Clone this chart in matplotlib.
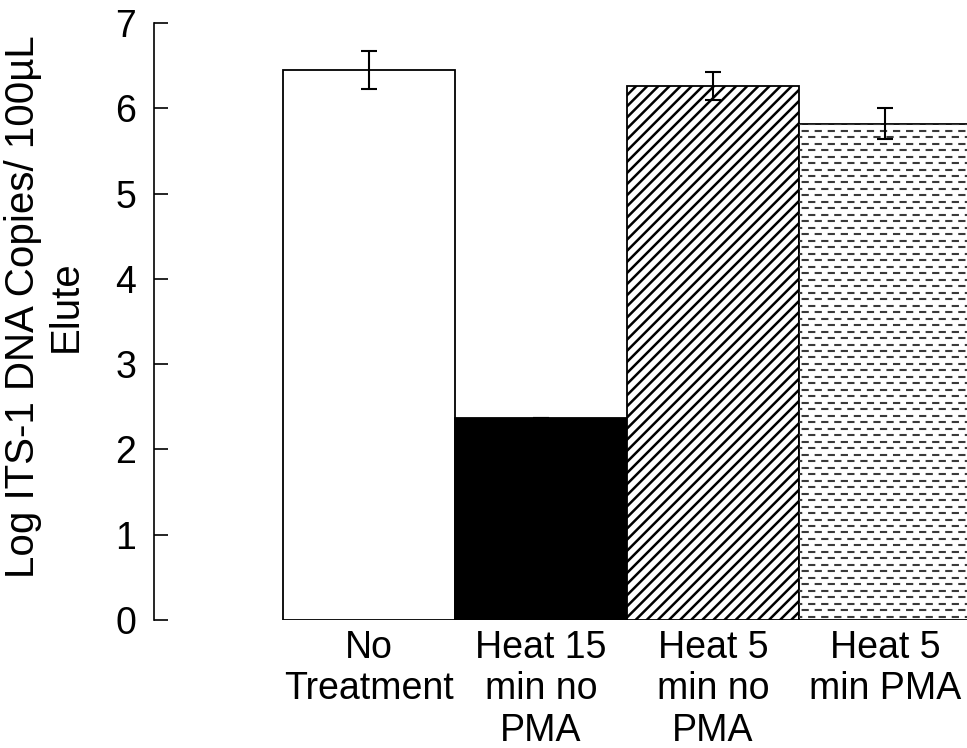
import numpy as np
import matplotlib
matplotlib.use("Agg")
import matplotlib.pyplot as plt

categories = ["No\nTreatment", "Heat 15\nmin no\nPMA", "Heat 5\nmin no\nPMA", "Heat 5\nmin PMA"]
values = [6.45, 2.37, 6.26, 5.82]
errors = [0.22, 0.0, 0.16, 0.18]
yticks = [0, 1, 2, 3, 4, 5, 6, 7]
ylabel = "Log ITS-1 DNA Copies/ 100µL\nElute"

plt.rcParams['font.family'] = ['Liberation Sans', 'DejaVu Sans']
plt.rcParams['hatch.linewidth'] = 1.8
plt.rcParams['lines.scale_dashes'] = False

fig = plt.figure(figsize=(9.67, 7.48), dpi=100)
ax = fig.add_axes([154/967, 1 - 620/748, 1 - 154/967, 597/748])

x = np.arange(len(categories))
faces = ['white', 'black', 'white', 'white']
hatches = [None, None, '///', None]
bars = ax.bar(x, values, width=1.0, color=faces, edgecolor='black', linewidth=1.3,
              zorder=2)
for b, h in zip(bars, hatches):
    if h:
        b.set_hatch(h)

# dashed fill pattern for last bar
last = bars[3]
step = 0.076
rows = np.arange(step / 2, values[3], step)
x0, x1 = x[3] - 0.5, x[3] + 0.5
for i, yy in enumerate(rows):
    ln, = ax.plot([x0 - 0.1, x1 + 0.1], [yy, yy], color='#3a3a3a', lw=1.5,
                  zorder=2.5, linestyle=((i % 2) * 4.7, (5.2, 4.2)))
    ln.set_clip_path(last)

ax.errorbar(x, values, yerr=errors, fmt='none', ecolor='black', elinewidth=1.5,
            capsize=6, capthick=1.5, zorder=3)

ax.set_xlim(-1.25, 3.477)
ax.set_ylim(0, 7)
ax.set_yticks(yticks)
ax.set_xticks(x)
ax.set_xticklabels(categories, fontsize=27, linespacing=1.2, ha='center',
                   multialignment='center')
ax.tick_params(axis='x', length=0, pad=7)
ax.tick_params(axis='y', direction='in', length=10, width=1.2, labelsize=27, pad=13)

ax.spines['top'].set_visible(False)
ax.spines['right'].set_visible(False)
ax.spines['bottom'].set_visible(False)
ax.spines['left'].set_linewidth(1.2)

ax.set_ylabel(ylabel, fontsize=29, linespacing=1.15, ha='center')
ax.yaxis.set_label_coords(-0.085, 0.525)

fig.savefig("out.png", dpi=100)
